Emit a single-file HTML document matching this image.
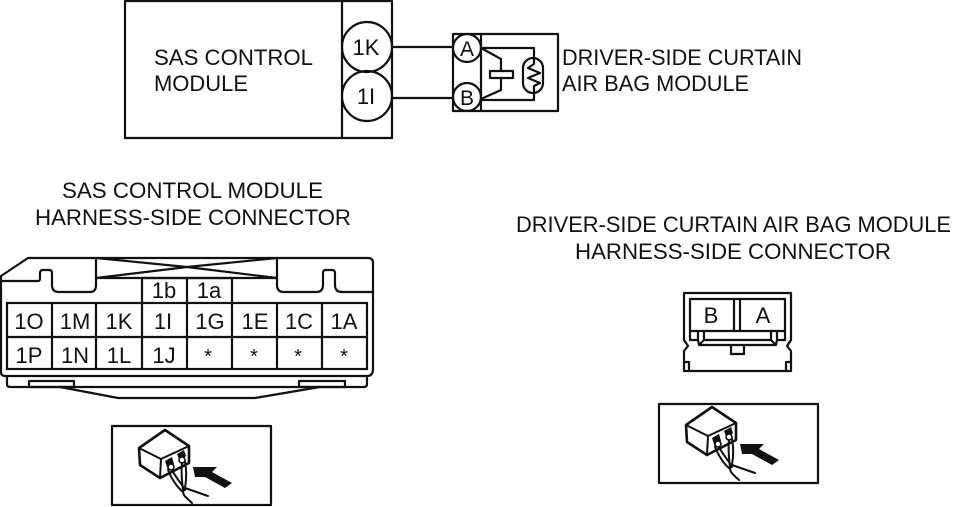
<!DOCTYPE html>
<html><head><meta charset="utf-8"><style>
html,body{margin:0;padding:0;background:#fff}
svg{display:block}
text{font-family:"Liberation Sans",sans-serif;fill:#111;font-size:22px}
.c text{text-anchor:middle}
.l{fill:none;stroke:#111;stroke-width:2.2;stroke-linejoin:round}
.t{fill:none;stroke:#111;stroke-width:2;stroke-linejoin:round;stroke-linecap:round}
</style></head><body>
<svg width="975" height="507" viewBox="0 0 975 507" xmlns="http://www.w3.org/2000/svg">
<defs>
<g id="ic">
<path d="M165 430 L189 446 L189 463 L160 478 L140 465 L139 448 Z" fill="#fff" stroke="#111" stroke-width="2.6" stroke-linejoin="round"/>
<path class="t" stroke-width="2.6" d="M139 448 L161 459 L189 446 M161 459 L160 478"/>
<path d="M165 461 L172 457 L174 464 L168 470 Z M177 454 L184 450 L186 456 L180 462 Z" fill="#111"/>
<circle cx="171" cy="467" r="3" fill="#fff" stroke="#111" stroke-width="1.6"/>
<circle cx="182" cy="460" r="3" fill="#fff" stroke="#111" stroke-width="1.6"/>
<path class="t" stroke-width="1.7" d="M168 470 C172 480 178 488 183 492 M172 470 C176 478 182 484 185 490 M182 463 C181 472 182 482 183 490 M185 462 C187 472 186 482 185 488"/>
<path class="t" d="M184 489 C181 495 187 498 192 503 M185 488 L208 496"/>
<path d="M193 467 L217 467 L212 472 L232 483 L225 488 L205 477 L195 477 Z" fill="#111"/>
</g>
</defs>

<!-- top: SAS box -->
<rect class="l" x="125" y="1" width="267" height="137"/>
<line class="l" x1="342" y1="1" x2="342" y2="138"/>
<circle class="l" cx="367" cy="47" r="25" fill="#fff"/>
<circle class="l" cx="367" cy="96" r="25" fill="#fff"/>
<line class="l" x1="393" y1="47" x2="453" y2="47"/>
<line class="l" x1="393" y1="98" x2="453" y2="98"/>
<text x="154" y="65" textLength="159" lengthAdjust="spacingAndGlyphs">SAS CONTROL</text>
<text x="154" y="91" textLength="94" lengthAdjust="spacingAndGlyphs">MODULE</text>
<g class="c">
<text x="366" y="55">1K</text>
<text x="366" y="104">1I</text>
</g>

<!-- air bag module symbol -->
<rect class="l" x="453" y="34" width="105" height="77"/>
<line class="l" x1="481" y1="34" x2="481" y2="111"/>
<path class="l" d="M481 48 H534 V58 M481 100 H534 V93"/>
<path class="l" d="M481 48 L501 59 V71 M481 99 L501 90 V78"/>
<rect class="l" x="490" y="71" width="23" height="7" fill="#fff"/>
<rect class="l" x="523" y="58" width="20" height="35" rx="10" ry="10" fill="#fff"/>
<path class="l" d="M534 58 V64 L528 68 L540 73 L528 78 L540 83 L534 86 V93"/>
<circle class="l" cx="467" cy="48" r="14" fill="#fff"/>
<circle class="l" cx="467" cy="97" r="14" fill="#fff"/>
<g class="c">
<text x="467" y="56" style="font-size:21px">A</text>
<text x="467" y="105" style="font-size:21px">B</text>
</g>
<text x="562" y="65" textLength="240" lengthAdjust="spacingAndGlyphs">DRIVER-SIDE CURTAIN</text>
<text x="562" y="91" textLength="187" lengthAdjust="spacingAndGlyphs">AIR BAG MODULE</text>

<!-- titles -->
<text x="62" y="198" textLength="261" lengthAdjust="spacingAndGlyphs">SAS CONTROL MODULE</text>
<text x="35" y="225" textLength="316" lengthAdjust="spacingAndGlyphs">HARNESS-SIDE CONNECTOR</text>
<text x="516" y="232" textLength="435" lengthAdjust="spacingAndGlyphs">DRIVER-SIDE CURTAIN AIR BAG MODULE</text>
<text x="575" y="259" textLength="316" lengthAdjust="spacingAndGlyphs">HARNESS-SIDE CONNECTOR</text>

<!-- left connector -->
<path class="l" d="M1 374 V276 L28 258 H368 Q373 258 373 263 V369 Q373 376 367 376 H5 Q1 376 1 372"/>
<path class="l" d="M1 281 H38 Q40 281 40 278 V273 Q40 270 43 270 H49 Q52 270 52 273 V285 Q52 292 59 292 H90 Q96 292 96 285 V258"/>
<path class="l" d="M277 258 V285 Q277 292 284 292 H316 Q323 292 323 285 V273 Q323 270 326 270 H332 Q335 270 335 273 V285 Q335 292 342 292 H373"/>
<path class="l" d="M96 258 L187 267 L277 278 M96 278 L187 267 L277 258 M96 278 H277"/>
<path class="l" d="M7 376 V384 Q7 387 10 387 H364 Q367 387 367 384 V376"/>
<rect class="l" x="29" y="381" width="45" height="6"/>
<rect class="l" x="299" y="381" width="46" height="6"/>
<path class="l" d="M60 387 L118 398 H255 L320 387"/>
<rect x="7" y="303" width="360" height="66" fill="#fff" stroke="#111" stroke-width="2.2"/>
<path class="l" d="M7 337 H367 M52 303 V369 M96 303 V369 M142 303 V369 M187 303 V369 M232 303 V369 M277 303 V369 M322 303 V369"/>
<path class="l" d="M142 303 V278 H232 V303 M187 278 V303" fill="#fff"/>
<g class="c">
<text x="164" y="298">1b</text><text x="209" y="298">1a</text>
<text x="29" y="329">1O</text><text x="75" y="329">1M</text><text x="119" y="329">1K</text><text x="163" y="329">1I</text><text x="210" y="329">1G</text><text x="255" y="329">1E</text><text x="299" y="329">1C</text><text x="344" y="329">1A</text>
<text x="29" y="363">1P</text><text x="75" y="363">1N</text><text x="119" y="363">1L</text><text x="164" y="363">1J</text>
<text x="208" y="363" style="font-size:20px">*</text><text x="254" y="363" style="font-size:20px">*</text><text x="298" y="363" style="font-size:20px">*</text><text x="344" y="363" style="font-size:20px">*</text>
</g>

<!-- right connector -->
<path class="l" d="M684 340 V293 H791 V340 L787 346 L791 351 V371 H684 V351 L688 346 Z"/>
<rect class="l" x="690" y="299" width="95" height="32"/>
<path class="l" d="M734 299 V331 M740 299 V331"/>
<path class="l" d="M690 331 V340 H698 L699 345 H776 L777 340 H785 V331 M698 331 V340 M777 331 V340 M704 331 V340 L699 345 M771 331 V340 L776 345 M704 340 H771"/>
<path class="l" d="M731 345 V354 H744 V345"/>
<path class="l" d="M684 362 H689 V371 M791 362 H786 V371"/>
<g class="c">
<text x="711" y="323">B</text>
<text x="763" y="323">A</text>
</g>

<!-- icon boxes -->
<rect class="l" x="112" y="426" width="159" height="79" stroke-width="2.4"/>
<use href="#ic"/>
<rect class="l" x="659" y="404" width="159" height="79" stroke-width="2.4"/>
<use href="#ic" transform="translate(547,-23)"/>
</svg>
</body></html>
